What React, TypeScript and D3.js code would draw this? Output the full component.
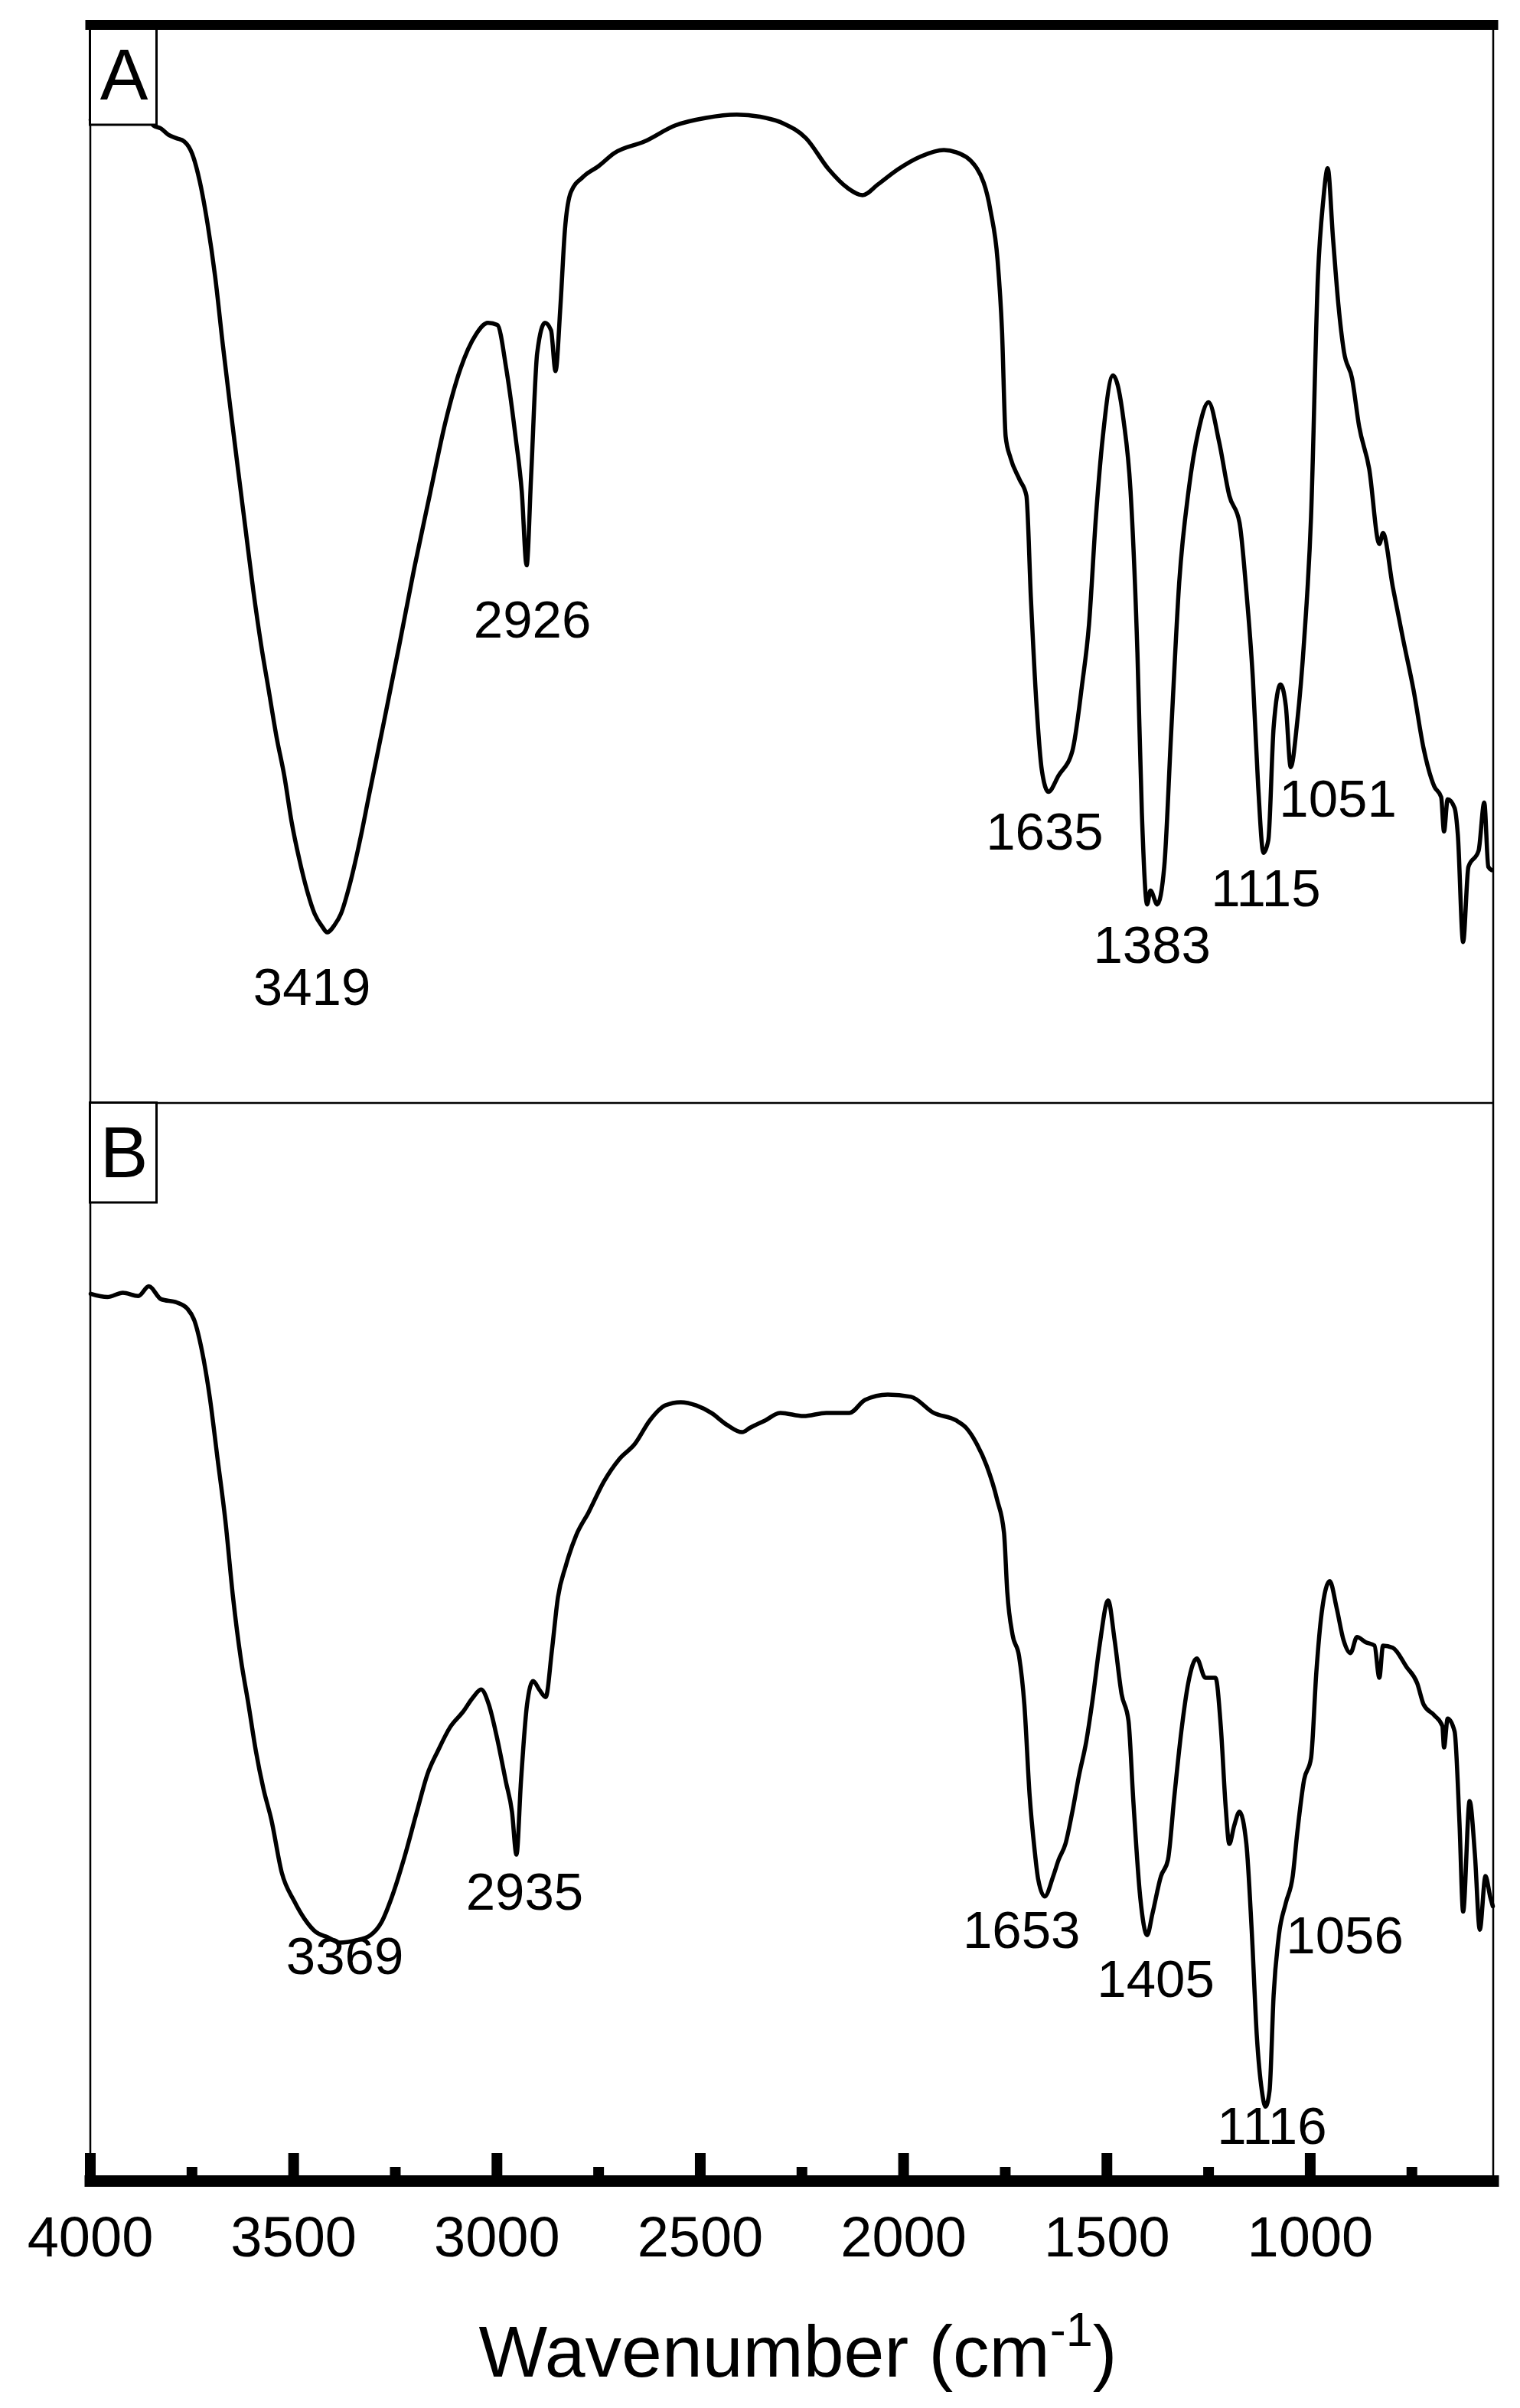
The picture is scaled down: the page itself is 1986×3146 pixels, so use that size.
import React from 'react';
import * as d3 from 'd3';

const W = 1986;
const H = 3146;

// x axis
const xDomain = [4000, 550];
const majorTicks = [4000, 3500, 3000, 2500, 2000, 1500, 1000];
const minorTicks = [3750, 3250, 2750, 2250, 1750, 1250, 750];
const axisTitle = 'Wavenumber (cm';
const axisSup = '-1';

// Panel A spectrum: wavenumber (cm-1) and transmittance (a.u., % of panel)
const wnA = [3999, 3977, 3958, 3939, 3920, 3901, 3882, 3863, 3845, 3826, 3807, 3788, 3769, 3750, 3731, 3712, 3693, 3674, 3656, 3637, 3618, 3599, 3580, 3561, 3542, 3523, 3505, 3486, 3467, 3448, 3429, 3418, 3399, 3384, 3361, 3335, 3316, 3278, 3240, 3203, 3165, 3127, 3090, 3052, 3022, 2999, 2977, 2954, 2939, 2927, 2916, 2901, 2882, 2867, 2856, 2844, 2833, 2818, 2788, 2750, 2712, 2637, 2561, 2486, 2410, 2353, 2297, 2240, 2184, 2139, 2101, 2063, 2014, 1958, 1901, 1871, 1820, 1786, 1769, 1758, 1749, 1737, 1715, 1698, 1687, 1673, 1660, 1644, 1619, 1585, 1561, 1544, 1527, 1510, 1485, 1459, 1442, 1425, 1414, 1401, 1393, 1376, 1359, 1342, 1322, 1299, 1275, 1250, 1224, 1199, 1174, 1158, 1141, 1128, 1115, 1103, 1090, 1073, 1060, 1048, 1032, 1015, 998, 981, 968, 957, 944, 931, 917, 897, 880, 855, 830, 821, 797, 771, 746, 721, 695, 678, 671, 662, 645, 637, 624, 611, 586, 572, 562, 554];
const tA = [91.6, 91.9, 91.5, 91.8, 91.3, 91.9, 91.5, 92.2, 91.1, 90.8, 90.2, 89.9, 89.6, 88.5, 85.9, 82.0, 77.0, 70.6, 64.9, 59.1, 53.4, 47.7, 42.7, 38.4, 34.1, 30.5, 26.2, 22.7, 19.8, 17.6, 16.4, 15.9, 16.6, 17.6, 20.5, 24.8, 28.4, 35.5, 42.7, 49.9, 56.7, 63.4, 68.4, 71.6, 72.7, 72.5, 68.4, 62.0, 57.0, 50.1, 58.4, 69.9, 72.7, 72.0, 68.2, 74.2, 81.3, 84.9, 86.3, 87.3, 88.5, 89.6, 91.1, 91.8, 92.1, 91.9, 91.3, 89.9, 87.0, 85.3, 84.6, 85.6, 87.0, 88.2, 88.8, 88.6, 87.1, 83.1, 78.6, 72.0, 62.1, 60.1, 58.1, 56.6, 47.1, 37.0, 31.0, 29.0, 30.5, 32.8, 39.0, 44.6, 54.6, 62.1, 67.8, 63.6, 57.1, 42.0, 27.0, 18.5, 19.8, 18.5, 22.0, 34.5, 48.6, 57.1, 62.6, 65.3, 61.6, 56.6, 54.1, 48.1, 39.5, 29.5, 23.3, 24.5, 35.0, 39.0, 37.0, 31.3, 35.5, 43.1, 54.6, 77.1, 84.1, 87.1, 80.6, 74.5, 70.0, 67.5, 63.1, 59.1, 52.1, 53.1, 48.1, 43.1, 38.5, 33.0, 29.5, 28.5, 25.3, 28.3, 27.5, 25.0, 15.0, 22.0, 23.5, 28.0, 22.0, 21.7];

// Panel B spectrum
const wnB = [3999, 3958, 3920, 3882, 3856, 3826, 3788, 3761, 3744, 3725, 3706, 3687, 3668, 3649, 3630, 3611, 3593, 3574, 3555, 3529, 3499, 3473, 3446, 3416, 3386, 3348, 3311, 3284, 3258, 3228, 3197, 3171, 3145, 3115, 3084, 3058, 3039, 3020, 3001, 2978, 2963, 2952, 2941, 2926, 2911, 2896, 2880, 2865, 2850, 2831, 2805, 2775, 2737, 2699, 2661, 2624, 2586, 2548, 2510, 2473, 2435, 2397, 2378, 2340, 2303, 2246, 2190, 2133, 2095, 2039, 1982, 1926, 1871, 1846, 1820, 1796, 1770, 1753, 1745, 1732, 1716, 1703, 1690, 1678, 1669, 1653, 1632, 1619, 1602, 1585, 1568, 1551, 1535, 1518, 1497, 1481, 1464, 1447, 1435, 1418, 1401, 1388, 1367, 1350, 1334, 1317, 1300, 1279, 1258, 1233, 1220, 1208, 1199, 1187, 1174, 1157, 1144, 1131, 1119, 1110, 1100, 1090, 1077, 1060, 1043, 1032, 1015, 998, 985, 972, 952, 935, 918, 901, 885, 863, 842, 830, 821, 797, 763, 737, 721, 695, 675, 671, 662, 645, 633, 624, 608, 595, 583, 569, 557, 551];
const tB = [82.2, 81.9, 82.3, 82.0, 82.9, 81.7, 81.4, 80.8, 79.7, 76.8, 72.5, 66.8, 61.1, 53.9, 48.2, 43.9, 39.6, 36.0, 33.2, 28.2, 25.6, 23.9, 22.7, 22.2, 21.7, 21.9, 22.4, 23.6, 26.0, 29.6, 33.9, 37.4, 39.6, 41.8, 43.2, 44.6, 45.3, 43.9, 41.0, 36.7, 33.9, 29.9, 36.7, 43.9, 46.1, 45.3, 44.6, 48.9, 53.9, 56.8, 59.7, 61.8, 64.7, 66.8, 68.2, 70.4, 71.8, 72.1, 71.8, 71.1, 70.0, 69.3, 69.7, 70.4, 71.1, 70.8, 71.1, 71.1, 72.3, 72.8, 72.6, 71.1, 70.4, 69.7, 68.2, 66.2, 63.0, 59.9, 54.4, 50.4, 48.4, 43.9, 35.4, 30.4, 27.6, 26.0, 27.9, 29.4, 30.9, 33.9, 37.4, 40.4, 44.4, 49.4, 53.6, 49.9, 44.9, 42.4, 34.9, 25.9, 22.4, 24.4, 27.9, 29.4, 35.4, 41.4, 45.9, 48.2, 46.4, 46.4, 41.9, 34.4, 30.9, 32.6, 33.9, 30.9, 22.9, 12.8, 7.9, 6.4, 7.9, 16.8, 22.4, 25.4, 27.9, 31.9, 36.9, 38.9, 46.9, 52.4, 55.4, 52.9, 49.9, 48.7, 50.2, 49.7, 49.4, 46.4, 49.4, 49.2, 47.4, 45.9, 43.9, 42.9, 41.9, 39.9, 42.6, 41.4, 32.9, 24.6, 34.9, 29.9, 22.9, 27.9, 25.9, 25.1];

// Peak annotations: label text, label centre wavenumber, label baseline value
const peakLabelsA = ['3419', '2926', '1635', '1383', '1115', '1051'];
const peakWnA = [3455, 2913, 1653, 1389, 1109, 932];
const peakTA = [9.1, 43.4, 23.6, 13.05, 18.3, 26.7];
const peakLabelsB = ['3369', '2935', '1653', '1405', '1116', '1056'];
const peakWnB = [3374, 2932, 1710, 1380, 1094, 915];
const peakTB = [18.8, 24.8, 21.2, 16.6, 2.9, 20.7];

const panelNames = ['A', 'B'];

const FONT = "'Liberation Sans', Arial, sans-serif";

const left = 118;
const right = 1951;
const topY = 39;
const midY = 1441;
const bottomY = 2842;

export default function App() {
  const x = d3.scaleLinear().domain(xDomain).range([left, right]);
  const yA = d3.scaleLinear().domain([0, 100]).range([midY, topY]);
  const yB = d3.scaleLinear().domain([0, 100]).range([bottomY, midY]);

  const dataA = wnA.map((w, i) => [w, tA[i]] as [number, number]);
  const dataB = wnB.map((w, i) => [w, tB[i]] as [number, number]);

  const lineA = d3.line<[number, number]>().x(d => x(d[0])).y(d => yA(d[1])).curve(d3.curveMonotoneX);
  const lineB = d3.line<[number, number]>().x(d => x(d[0])).y(d => yB(d[1])).curve(d3.curveMonotoneX);

  const panels = [
    { name: panelNames[0], y: yA, path: lineA(dataA), labels: peakLabelsA, lw: peakWnA, lt: peakTA, top: topY - 6.5 },
    { name: panelNames[1], y: yB, path: lineB(dataB), labels: peakLabelsB, lw: peakWnB, lt: peakTB, top: midY - 0.5 },
  ];

  return (
    <svg width={W} height={H} style={{ position: 'absolute', left: 0, top: 0, background: '#fff' }} fontFamily={FONT}>
      <rect x={0} y={0} width={W} height={H} fill="#fff" />
      {/* frame */}
      <line x1={left} x2={left} y1={topY} y2={bottomY} stroke="#000" strokeWidth={2.5} />
      <line x1={right} x2={right} y1={topY} y2={bottomY} stroke="#000" strokeWidth={2.5} />
      <line x1={left} x2={right} y1={midY} y2={midY} stroke="#000" strokeWidth={2.5} />
      {/* spectra */}
      {panels.map((p, i) => (
        <g key={'p' + i}>
          <path d={p.path || ''} fill="none" stroke="#000" strokeWidth={5.5} strokeLinejoin="round" strokeLinecap="round" />
          {p.labels.map((t, j) => (
            <text key={t} x={x(p.lw[j])} y={p.y(p.lt[j])} fontSize={69} textAnchor="middle" fill="#000">{t}</text>
          ))}
          <rect x={117.5} y={p.top} width={87} height={163 - 32.5} fill="#fff" stroke="#000" strokeWidth={3} />
          <text x={162} y={p.top + 97} fontSize={94} textAnchor="middle" fill="#000">{p.name}</text>
        </g>
      ))}
      {/* top thick bar */}
      <line x1={left} x2={right} y1={32.5} y2={32.5} stroke="#000" strokeWidth={13} strokeLinecap="square" />
      {/* bottom axis */}
      <line x1={left} x2={right} y1={bottomY + 7.5} y2={bottomY + 7.5} stroke="#000" strokeWidth={15} strokeLinecap="square" />
      {majorTicks.map(t => (
        <line key={'M' + t} x1={x(t)} x2={x(t)} y1={2813} y2={2846} stroke="#000" strokeWidth={14} />
      ))}
      {minorTicks.map(t => (
        <line key={'m' + t} x1={x(t)} x2={x(t)} y1={2831} y2={2846} stroke="#000" strokeWidth={14} />
      ))}
      {majorTicks.map(t => (
        <text key={'L' + t} x={x(t)} y={2948} fontSize={74} textAnchor="middle" fill="#000">{t}</text>
      ))}
      <text x={(left + right) / 2 + 8} y={3105} fontSize={95} textAnchor="middle" fill="#000">
        {axisTitle}
        <tspan fontSize={63} dy={-40}>{axisSup}</tspan>
        <tspan dy={40}>)</tspan>
      </text>
    </svg>
  );
}
